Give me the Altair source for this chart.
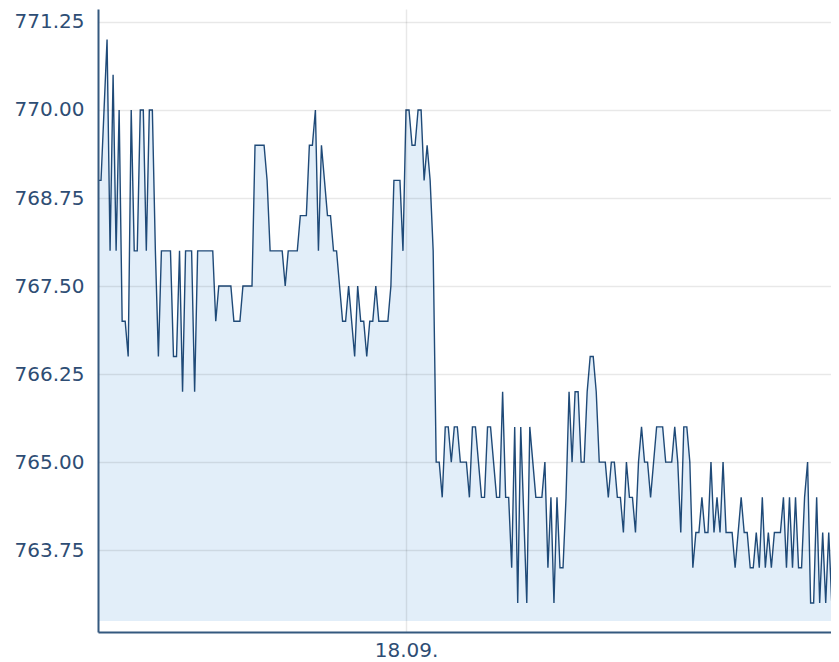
import altair as alt
import pandas as pd

# Price series, one quote every 10 minutes starting 17.09. 07:00
prices = [
    769, 769, 770, 771, 768, 770.5, 768, 770, 767, 767,
    766.5, 770, 768, 768, 770, 770, 768, 770, 770, 768,
    766.5, 768, 768, 768, 768, 766.5, 766.5, 768, 766, 768,
    768, 768, 766, 768, 768, 768, 768, 768, 768, 767,
    767.5, 767.5, 767.5, 767.5, 767.5, 767, 767, 767, 767.5, 767.5,
    767.5, 767.5, 769.5, 769.5, 769.5, 769.5, 769, 768, 768, 768,
    768, 768, 767.5, 768, 768, 768, 768, 768.5, 768.5, 768.5,
    769.5, 769.5, 770, 768, 769.5, 769, 768.5, 768.5, 768, 768,
    767.5, 767, 767, 767.5, 767, 766.5, 767.5, 767, 767, 766.5,
    767, 767, 767.5, 767, 767, 767, 767, 767.5, 769, 769,
    769, 768, 770, 770, 769.5, 769.5, 770, 770, 769, 769.5,
    769, 768, 765, 765, 764.5, 765.5, 765.5, 765, 765.5, 765.5,
    765, 765, 765, 764.5, 765.5, 765.5, 765, 764.5, 764.5, 765.5,
    765.5, 765, 764.5, 764.5, 766, 764.5, 764.5, 763.5, 765.5, 763,
    765.5, 764.25, 763, 765.5, 765, 764.5, 764.5, 764.5, 765, 763.5,
    764.5, 763, 764.5, 763.5, 763.5, 764.5, 766, 765, 766, 766,
    765, 765, 766, 766.5, 766.5, 766, 765, 765, 765, 764.5,
    765, 765, 764.5, 764.5, 764, 765, 764.5, 764.5, 764, 765,
    765.5, 765, 765, 764.5, 765, 765.5, 765.5, 765.5, 765, 765,
    765, 765.5, 765, 764, 765.5, 765.5, 765, 763.5, 764, 764,
    764.5, 764, 764, 765, 764, 764.5, 764, 765, 764, 764,
    764, 763.5, 764, 764.5, 764, 764, 763.5, 763.5, 764, 763.5,
    764.5, 763.5, 764, 763.5, 764, 764, 764, 764.5, 763.5, 764.5,
    763.5, 764.5, 763.5, 763.5, 764.5, 765, 763, 763, 764.5, 763,
    764, 763, 764, 763, 763, 764, 763,
]
step_minutes = 10            # minutes between quotes
x_domain = [0, 2427.5]       # minutes after 17.09. 07:00 shown in the view
day_mark = 1020              # 18.09. 00:00, in minutes after 17.09. 07:00
day_label = "18.09."
y_ticks = [763.75, 765.0, 766.25, 767.5, 768.75, 770.0, 771.25]
y_domain = [762.588, 771.434]
baseline = 762.744

df = pd.DataFrame({
    "minute": [i * step_minutes for i in range(len(prices))],
    "price": prices,
})

label_color = "#2e4d74"
axis_color = "#34597f"
font = "DejaVu Sans"

x_enc = alt.X(
    "minute:Q",
    scale=alt.Scale(domain=x_domain, nice=False, zero=False),
    axis=alt.Axis(
        values=[day_mark], labelExpr=f"'{day_label}'", title=None, ticks=False,
        labelPadding=8, labelFont=font, labelFontSize=20,
        labelColor=label_color, domainColor=axis_color, domainWidth=2, grid=True,
        gridColor="#000000", gridOpacity=0.09, gridWidth=1.5, zindex=1,
    ),
)
y_enc = alt.Y(
    "price:Q",
    scale=alt.Scale(domain=y_domain, nice=False, zero=False),
    axis=alt.Axis(
        values=y_ticks, format=".2f", title=None, ticks=False, labelPadding=14,
        labelFont=font, labelFontSize=20, labelColor=label_color,
        domainColor=axis_color, domainWidth=2, grid=True,
        gridColor="#000000", gridOpacity=0.09, gridWidth=1.5, zindex=1,
    ),
)

area = alt.Chart(df).mark_area(color="#e2eef9", clip=True).encode(
    x=x_enc, y=y_enc, y2=alt.datum(baseline)
)
line = alt.Chart(df).mark_line(color="#1f4a78", strokeWidth=1.4, clip=True).encode(
    x=x_enc, y=y_enc
)

chart = (area + line).properties(
    width=733,
    height=623,
    autosize=alt.AutoSizeParams(type="none"),
    padding={"left": 90, "top": 1, "right": 0, "bottom": 30},
).configure_view(stroke=None)

chart.save("out.html", embed_options={"renderer": "svg", "actions": False})
